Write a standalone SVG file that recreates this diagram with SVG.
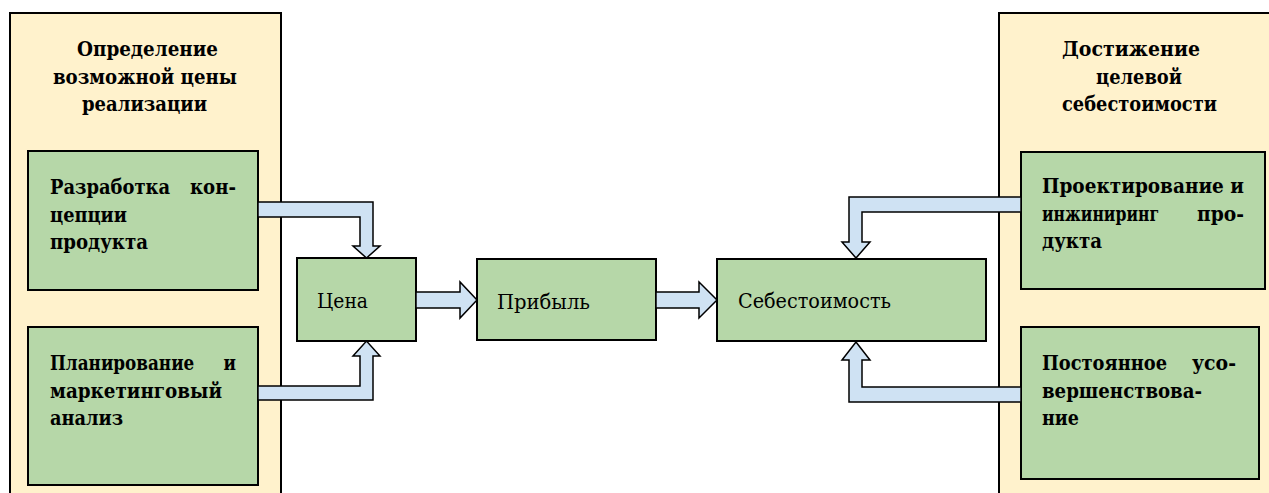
<svg xmlns="http://www.w3.org/2000/svg" width="1269" height="493" viewBox="0 0 1269 493">
  <style>
    .panel { fill: #FFF2CC; stroke: #000; stroke-width: 2; }
    .box { fill: #B6D7A8; stroke: #000; stroke-width: 2; }
    .arrow { fill: #CFE2F3; stroke: #000; stroke-width: 1.5; stroke-linejoin: miter; }
    text { font-family: "DejaVu Serif", serif; font-size: 20px; fill: #000; }
    .b { font-weight: bold; }
  </style>
  <rect width="1269" height="493" fill="#FFFFFF"/>

  <g id="panel-left">
    <rect class="panel" x="10" y="13" width="271" height="500"/>
    <text class="b" x="77" y="56" textLength="141" lengthAdjust="spacingAndGlyphs">Определение</text>
    <text class="b" x="53" y="83.6" textLength="184" lengthAdjust="spacingAndGlyphs">возможной цены</text>
    <text class="b" x="82" y="111.2" textLength="125" lengthAdjust="spacingAndGlyphs">реализации</text>
  </g>

  <g id="panel-right">
    <rect class="panel" x="999" y="13" width="300" height="500"/>
    <text class="b" x="1062" y="56" textLength="138" lengthAdjust="spacingAndGlyphs">Достижение</text>
    <text class="b" x="1096" y="83.6" textLength="86" lengthAdjust="spacingAndGlyphs">целевой</text>
    <text class="b" x="1062" y="111.2" textLength="155" lengthAdjust="spacingAndGlyphs">себестоимости</text>
  </g>

  <g id="node-concept">
    <rect class="box" x="28" y="151" width="230" height="139"/>
    <text class="b" y="194"><tspan x="50" textLength="120" lengthAdjust="spacingAndGlyphs">Разработка</tspan><tspan x="190" textLength="46" lengthAdjust="spacingAndGlyphs">кон-</tspan></text>
    <text class="b" x="50" y="221.6" textLength="77" lengthAdjust="spacingAndGlyphs">цепции</text>
    <text class="b" x="50" y="249.2" textLength="98" lengthAdjust="spacingAndGlyphs">продукта</text>
  </g>

  <g id="node-planning">
    <rect class="box" x="28" y="327" width="230" height="158"/>
    <text class="b" x="50" y="370" textLength="186" lengthAdjust="spacingAndGlyphs" xml:space="preserve" style="white-space:pre">Планирование     и</text>
    <text class="b" x="50" y="397.6" textLength="172" lengthAdjust="spacingAndGlyphs">маркетинговый</text>
    <text class="b" x="50" y="425.2" textLength="73" lengthAdjust="spacingAndGlyphs">анализ</text>
  </g>

  <g id="node-design">
    <rect class="box" x="1021" y="152" width="244" height="137"/>
    <text class="b" x="1042" y="193" textLength="202" lengthAdjust="spacingAndGlyphs">Проектирование и</text>
    <text class="b" y="220.6"><tspan x="1042" textLength="117" lengthAdjust="spacingAndGlyphs">инжиниринг</tspan><tspan x="1197" textLength="47" lengthAdjust="spacingAndGlyphs">про-</tspan></text>
    <text class="b" x="1042" y="248.2" textLength="60" lengthAdjust="spacingAndGlyphs">дукта</text>
  </g>

  <g id="node-improvement">
    <rect class="box" x="1021" y="327" width="238" height="152"/>
    <text class="b" y="370"><tspan x="1042" textLength="125" lengthAdjust="spacingAndGlyphs">Постоянное</tspan><tspan x="1192" textLength="44" lengthAdjust="spacingAndGlyphs">усо-</tspan></text>
    <text class="b" x="1042" y="397.6" textLength="160" lengthAdjust="spacingAndGlyphs">вершенствова-</text>
    <text class="b" x="1042" y="425.2" textLength="37" lengthAdjust="spacingAndGlyphs">ние</text>
  </g>

  <g id="node-price">
    <rect class="box" x="297" y="258" width="119" height="83"/>
    <text x="317" y="308" textLength="51" lengthAdjust="spacingAndGlyphs">Цена</text>
  </g>

  <g id="node-profit">
    <rect class="box" x="477" y="259" width="179" height="81"/>
    <text x="497" y="309" textLength="93" lengthAdjust="spacingAndGlyphs">Прибыль</text>
  </g>

  <g id="node-cost">
    <rect class="box" x="717" y="259" width="269" height="82"/>
    <text x="738" y="308" textLength="153" lengthAdjust="spacingAndGlyphs">Себестоимость</text>
  </g>

  <g id="connectors">
    <polygon class="arrow" points="258,202 373,202 373,246 380,246 366.5,258 353,246 360,246 360,217 258,217"/>
    <polygon class="arrow" points="258,400 373,400 373,356 380,356 366.5,341 353,356 360,356 360,386 258,386"/>
    <polygon class="arrow" points="416,292 460,292 460,282 477,300 460,318 460,308 416,308"/>
    <polygon class="arrow" points="656,292 699,292 699,282 717,300 699,318 699,308 656,308"/>
    <polygon class="arrow" points="1021,197 849,197 849,242 842,242 856,258 870,242 862,242 862,212 1021,212"/>
    <polygon class="arrow" points="1021,402 849,402 849,360 842,360 856,342 870,360 862,360 862,387 1021,387"/>
  </g>
</svg>
